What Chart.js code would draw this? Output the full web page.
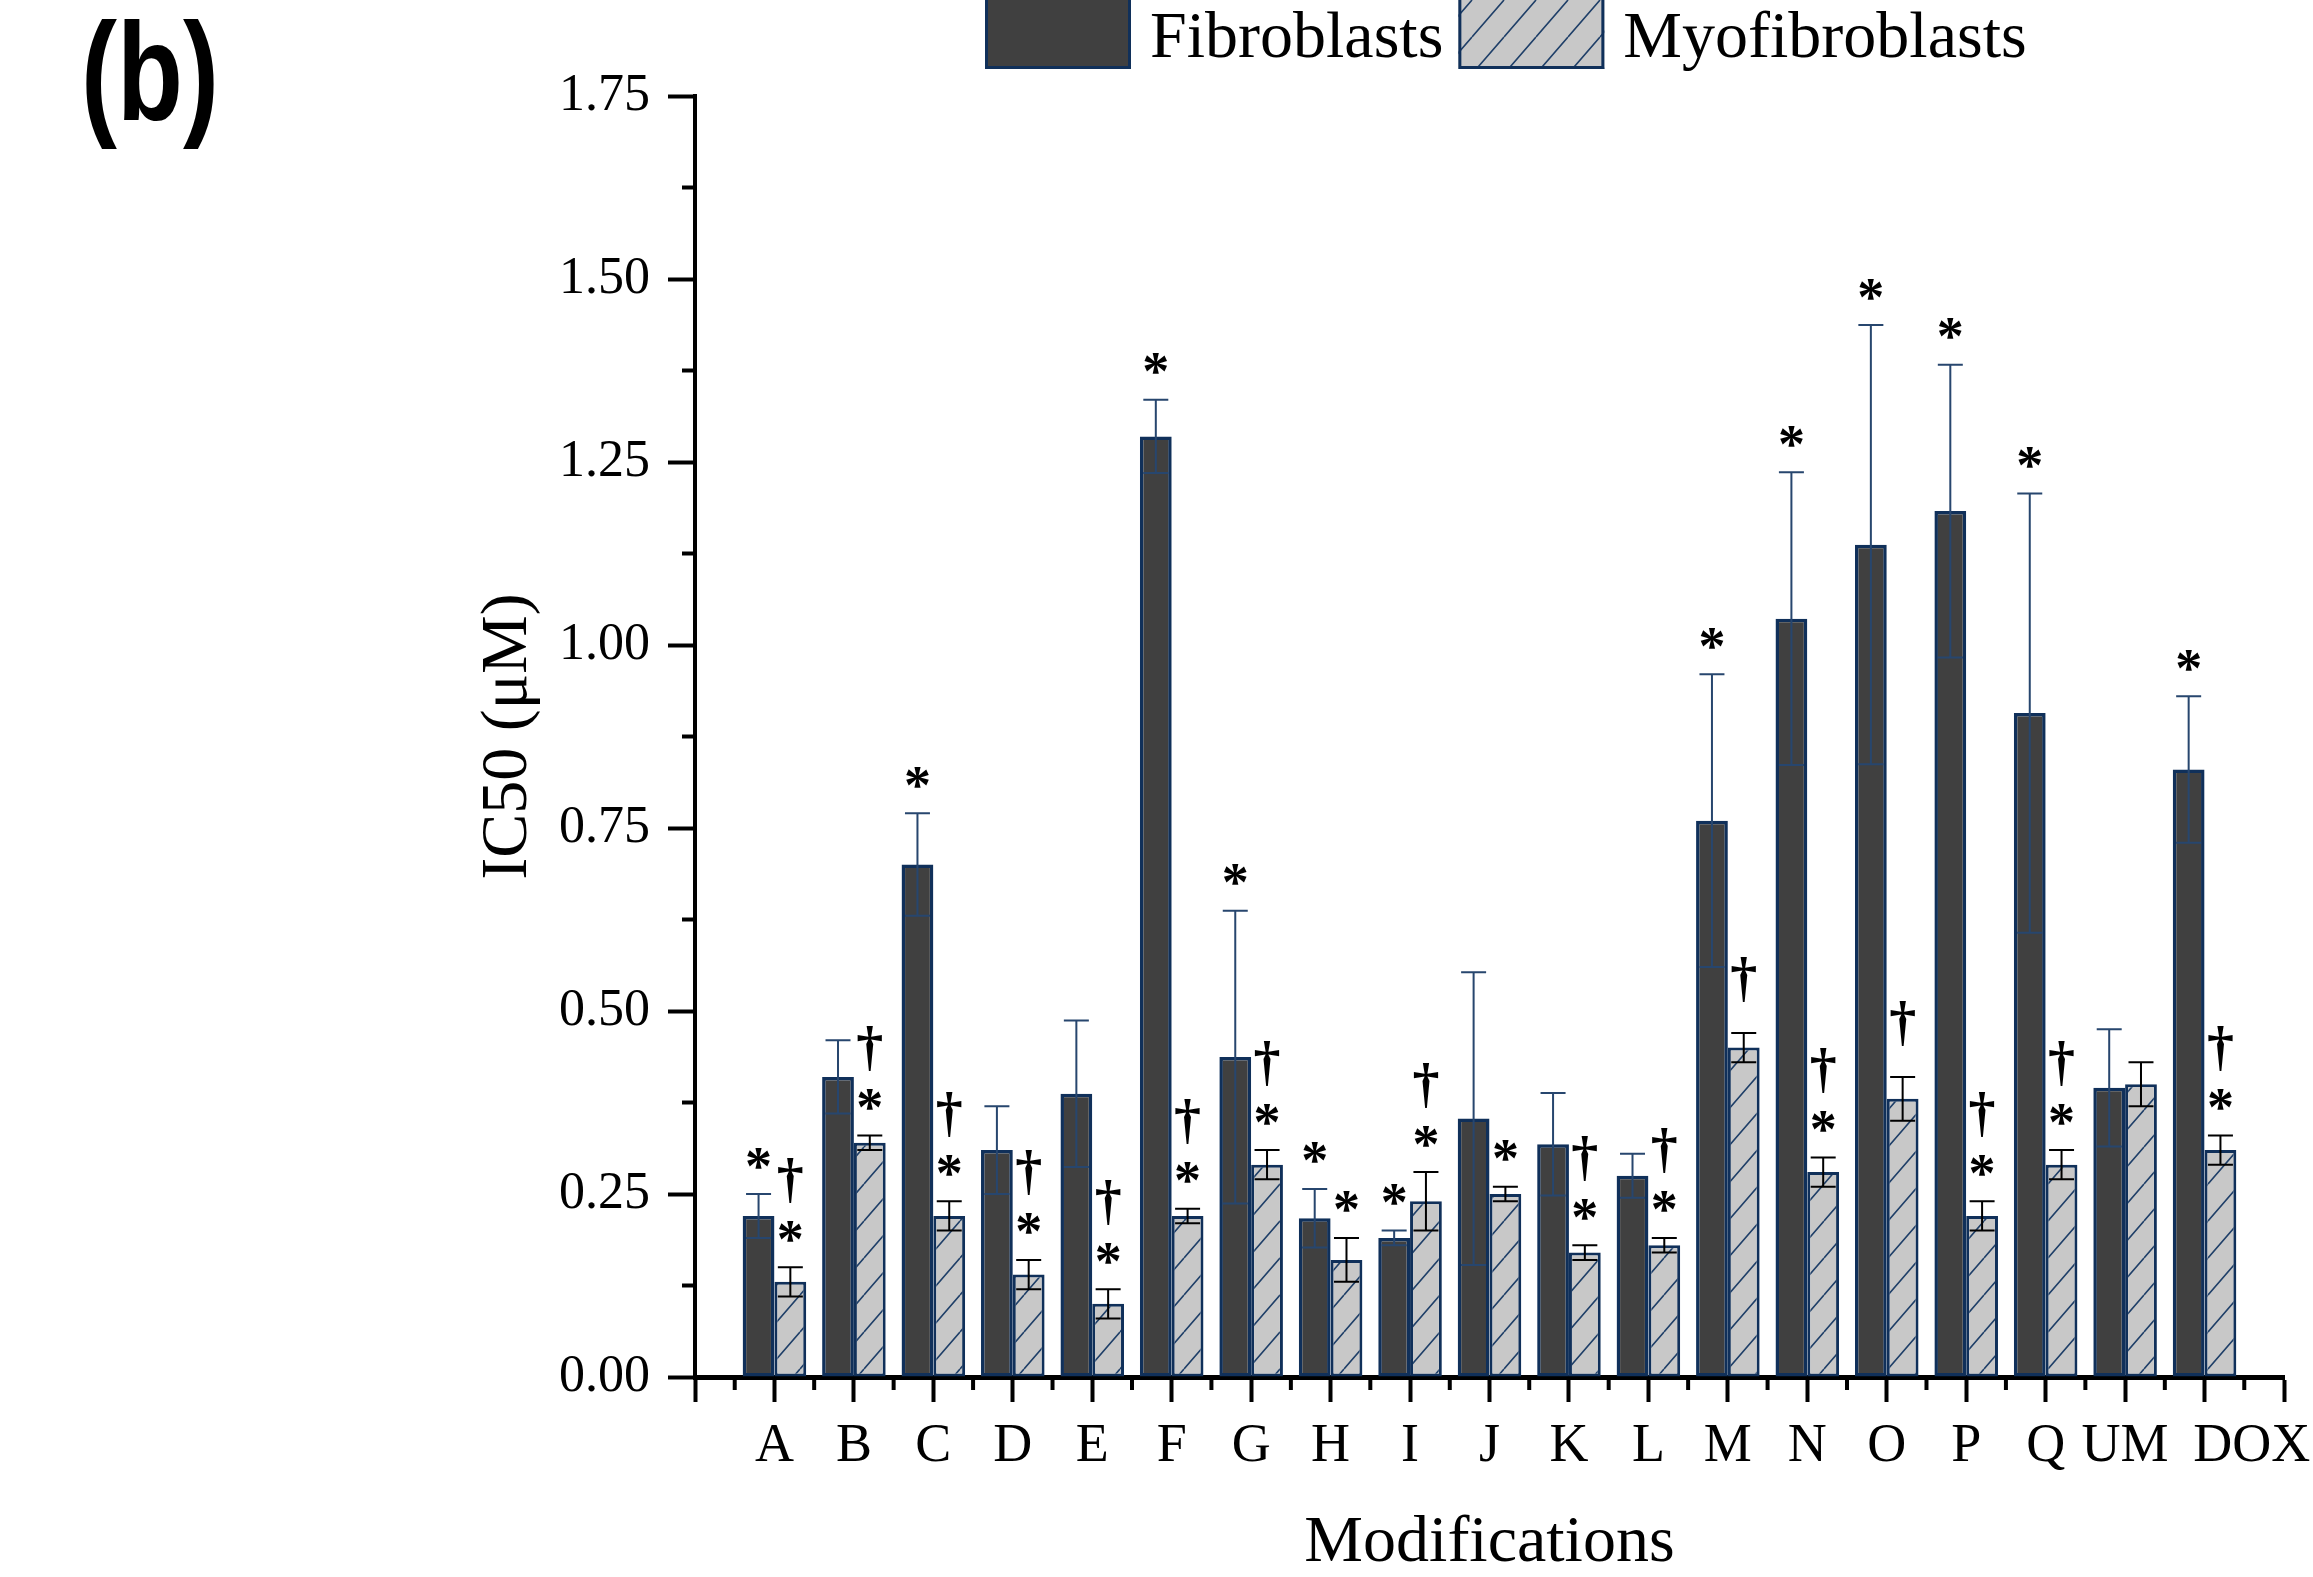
<!DOCTYPE html>
<html>
<head>
<meta charset="utf-8">
<script src="https://cdn.jsdelivr.net/npm/chart.js@4.4.1/dist/chart.umd.min.js"></script>
<style>
html,body{margin:0;padding:0;background:#ffffff;}
#wrap{position:relative;width:2313px;height:1577px;overflow:hidden;}
canvas{display:block;}
</style>
</head>
<body>
<div id="wrap"><canvas id="c" width="2313" height="1577"></canvas></div>
<script>
// ---------------- data ----------------
const categories = ['A','B','C','D','E','F','G','H','I','J','K','L','M','N','O','P','Q','UM','DOX'];
const seriesNames = ['Fibroblasts','Myofibroblasts'];
const fibroblasts    = [0.22,0.41,0.70,0.31,0.387,1.285,0.437,0.217,0.19,0.353,0.318,0.275,0.76,1.036,1.137,1.183,0.907,0.395,0.83];
const fibroblastsErr = [0.03,0.05,0.07,0.06,0.10,0.05,0.20,0.04,0.01,0.20,0.07,0.03,0.20,0.20,0.30,0.20,0.30,0.08,0.10];
const myofibroblasts    = [0.13,0.32,0.22,0.14,0.10,0.22,0.29,0.16,0.24,0.25,0.17,0.18,0.45,0.28,0.38,0.22,0.29,0.40,0.31];
const myofibroblastsErr = [0.02,0.01,0.02,0.02,0.02,0.01,0.02,0.03,0.04,0.01,0.01,0.01,0.02,0.02,0.03,0.02,0.02,0.03,0.02];
const fibroblastsMarks    = ['*','','*','','','*','*','*','*','','','','*','*','*','*','*','','*'];
const myofibroblastsMarks = ['*†','*†','*†','*†','*†','*†','*†','*','*†','*','*†','*†','†','*†','†','*†','*†','','*†'];
const yMin = 0, yMax = 1.75, yStep = 0.25;
const xTitle = 'Modifications';
const yTitle = 'IC50 (μM)';
const panelLabel = '(b)';

// ---------------- styling ----------------
const SERIF = '"Liberation Serif","Times New Roman",serif';
Chart.defaults.font.family = SERIF;
Chart.defaults.color = '#000';

const NAVY = '#10305a';
const DARK = '#404040';
const LIGHT = '#c8c8c8';

function makeHatch() {
  const w = 32, h = 37;
  const pc = document.createElement('canvas');
  pc.width = w; pc.height = h;
  const g = pc.getContext('2d');
  g.fillStyle = LIGHT; g.fillRect(0, 0, w, h);
  g.strokeStyle = '#1f3f68'; g.lineWidth = 1.6;
  g.beginPath();
  for (const k of [-w, 0, w]) { g.moveTo(k, h); g.lineTo(k + w, 0); }
  g.stroke();
  return document.getElementById('c').getContext('2d').createPattern(pc, 'repeat');
}
const hatch = makeHatch();

const labels = ['', ...categories, ''];
const pad = a => [null, ...a, null];

const errInfo = [
  {vals: fibroblasts, errs: fibroblastsErr, marks: fibroblastsMarks, color: '#27466e'},
  {vals: myofibroblasts, errs: myofibroblastsErr, marks: myofibroblastsMarks, color: '#000000'}
];

const extrasPlugin = {
  id: 'extras',
  afterDraw(chart) {
    const ctx = chart.ctx;
    const xs = chart.scales.x, ys = chart.scales.y;
    ctx.save();
    // minor ticks
    ctx.strokeStyle = '#000'; ctx.lineWidth = 4;
    const nT = xs.ticks.length;
    for (let i = 0; i < nT - 1; i++) {
      const x = (xs.getPixelForTick(i) + xs.getPixelForTick(i + 1)) / 2;
      ctx.beginPath(); ctx.moveTo(x, xs.top); ctx.lineTo(x, xs.top + 13); ctx.stroke();
    }
    for (let v = yMin + yStep / 2; v < yMax; v += yStep) {
      const y = ys.getPixelForValue(v);
      ctx.beginPath(); ctx.moveTo(ys.right, y); ctx.lineTo(ys.right - 13, y); ctx.stroke();
    }
    // error bars and significance marks
    errInfo.forEach((info, d) => {
      const meta = chart.getDatasetMeta(d);
      meta.data.forEach((bar, idx) => {
        const i = idx - 1;
        if (i < 0 || i >= categories.length) return;
        const v = info.vals[i], e = info.errs[i];
        const yt = ys.getPixelForValue(v + e), yb = ys.getPixelForValue(v - e);
        const x = bar.x;
        ctx.strokeStyle = info.color; ctx.lineWidth = 2;
        ctx.beginPath();
        ctx.moveTo(x, yt); ctx.lineTo(x, yb);
        ctx.moveTo(x - 12.5, yt); ctx.lineTo(x + 12.5, yt);
        ctx.moveTo(x - 12.5, yb); ctx.lineTo(x + 12.5, yb);
        ctx.stroke();
        const m = info.marks[i];
        if (!m) return;
        let cy = null;
        ctx.fillStyle = '#000'; ctx.textAlign = 'center'; ctx.textBaseline = 'alphabetic';
        [...m].forEach((sym, k) => {
          if (k === 0) cy = yt - (sym === '*' ? 36 : 53);
          else cy = cy - 51;
          ctx.font = (sym === '*' ? 'bold 54px ' : 'bold 54px ') + SERIF;
          const mt = ctx.measureText(sym);
          const base = cy + (mt.actualBoundingBoxAscent - mt.actualBoundingBoxDescent) / 2;
          ctx.fillText(sym, x, base);
        });
      });
    });
    // legend
    ctx.font = '66px ' + SERIF;
    ctx.textAlign = 'left'; ctx.textBaseline = 'alphabetic';
    let lx = 985;
    const boxW = 146, boxTop = -10, boxBottom = 69;
    chart.data.datasets.forEach((ds) => {
      ctx.fillStyle = ds.backgroundColor;
      ctx.fillRect(lx, boxTop, boxW, boxBottom - boxTop);
      ctx.strokeStyle = NAVY; ctx.lineWidth = 3;
      ctx.strokeRect(lx + 1.5, boxTop, boxW - 3, boxBottom - boxTop - 1.5);
      ctx.fillStyle = '#000';
      const tx = lx + boxW + 19;
      ctx.fillText(ds.label, tx, 57);
      lx = tx + ctx.measureText(ds.label).width + 15;
    });
    // panel label (slightly tall, as in the original)
    ctx.save();
    ctx.font = 'bold 108px "Liberation Sans",Arial,sans-serif';
    ctx.fillStyle = '#000';
    ctx.translate(81, 120);
    ctx.scale(1, 1.28);
    ctx.fillText(panelLabel, 0, 0);
    ctx.restore();
    ctx.restore();
  }
};

new Chart(document.getElementById('c').getContext('2d'), {
  type: 'bar',
  data: {
    labels: labels,
    datasets: [
      {label: seriesNames[0], data: pad(fibroblasts), backgroundColor: DARK, borderColor: NAVY,
       borderWidth: 3.5, borderSkipped: false, categoryPercentage: 0.8, barPercentage: 1.0},
      {label: seriesNames[1], data: pad(myofibroblasts), backgroundColor: hatch, borderColor: NAVY,
       borderWidth: 3, borderSkipped: false, categoryPercentage: 0.8, barPercentage: 1.0}
    ]
  },
  options: {
    responsive: false,
    animation: false,
    devicePixelRatio: 1,
    layout: {padding: {left: 0, right: 29, top: 96, bottom: 0}},
    plugins: {legend: {display: false}, tooltip: {enabled: false}},
    scales: {
      x: {
        type: 'category',
        offset: false,
        grid: {display: true, offset: false, drawOnChartArea: false, drawTicks: true, tickLength: 25, tickWidth: 4, tickColor: '#000'},
        border: {display: true, width: 5, color: '#000'},
        ticks: {
          autoSkip: false, maxRotation: 0, minRotation: 0, padding: 12, color: '#000',
          font: {family: SERIF, size: 54},
          callback: function (value, index) {
            const l = this.getLabelForValue(value);
            // last category label is nudged right in the original figure
            return index === labels.length - 2 ? '\u0020'.repeat(7) + l : l;
          }
        },
        title: {display: true, text: xTitle, color: '#000', font: {family: SERIF, size: 66, lineHeight: 1}, padding: {top: 0, bottom: 0}},
        afterFit: s => { s.height = 200; }
      },
      y: {
        min: yMin, max: yMax,
        grid: {display: true, drawOnChartArea: false, drawTicks: true, tickLength: 27, tickWidth: 4, tickColor: '#000'},
        border: {display: true, width: 4, color: '#000'},
        ticks: {stepSize: yStep, padding: 18, color: '#000', font: {family: SERIF, size: 52}, callback: v => Number(v).toFixed(2)},
        title: {display: true, text: yTitle, color: '#000', font: {family: SERIF, size: 66, lineHeight: 1}, padding: {top: 476, bottom: 0}},
        afterFit: s => { s.width = 695; }
      }
    }
  },
  plugins: [extrasPlugin]
});
</script>
</body>
</html>
